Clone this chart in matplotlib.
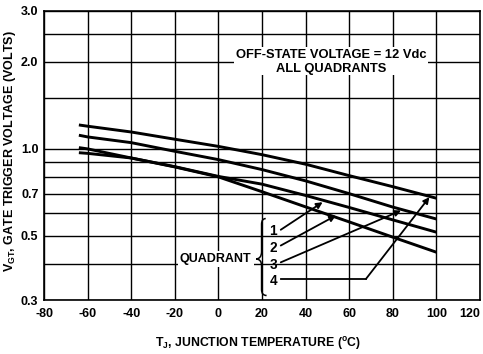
import matplotlib
matplotlib.use("Agg")
import matplotlib.pyplot as plt
from matplotlib.path import Path
from matplotlib.patches import PathPatch, Rectangle
from matplotlib.ticker import NullFormatter

# ---------------- data ----------------
temps = [-64, -60, -40, -20, 0, 20, 40, 60, 80, 100]
vgt_q4 = [1.21, 1.198, 1.144, 1.08, 1.02, 0.955, 0.885, 0.808, 0.74, 0.675]
vgt_q3 = [1.115, 1.10, 1.051, 0.981, 0.918, 0.848, 0.775, 0.70, 0.629, 0.572]
vgt_q1 = [0.97, 0.965, 0.93, 0.868, 0.803, 0.755, 0.69, 0.627, 0.568, 0.515]
vgt_q2 = [1.01, 1.0, 0.93, 0.866, 0.80, 0.711, 0.63, 0.559, 0.495, 0.439]

x_ticks = [-80, -60, -40, -20, 0, 20, 40, 60, 80, 100, 120]
y_major = [0.3, 0.5, 0.7, 1.0, 2.0, 3.0]
y_major_labels = ["0.3", "0.5", "0.7", "1.0", "2.0", "3.0"]
y_minor = [0.4, 0.6, 0.8, 0.9, 1.5, 2.5]

quadrant_labels = ["1", "2", "3", "4"]

plt.rcParams["font.family"] = ["Liberation Sans", "DejaVu Sans"]
plt.rcParams["axes.unicode_minus"] = False
FS = 9.0
NARROW = ["Liberation Sans Narrow", "Liberation Sans", "DejaVu Sans"]

fig = plt.figure(figsize=(4.83, 3.54), dpi=100)
ax = fig.add_axes([0.0911, 0.1525, 0.9027, 0.8165])
ax.set_yscale("log")
ax.set_xlim(-80, 120)
ax.set_ylim(0.3, 3.0)

ax.set_xticks(x_ticks)
xl = ax.set_xticklabels([str(v) for v in x_ticks], fontsize=FS, fontweight="bold")
xl[-1].set_horizontalalignment("right")
ax.set_yticks(y_major)
ax.set_yticklabels(y_major_labels, fontsize=FS, fontweight="bold")
ax.set_yticks(y_minor, minor=True)
ax.yaxis.set_minor_formatter(NullFormatter())
ax.tick_params(axis="both", which="both", length=0)
ax.tick_params(axis="x", pad=6)
ax.tick_params(axis="y", pad=4)
ax.grid(True, which="both", color="black", linewidth=1.0)
ax.set_axisbelow(True)
for s in ax.spines.values():
    s.set_linewidth(1.2)
    s.set_color("black")

for series in [vgt_q4, vgt_q3, vgt_q1, vgt_q2]:
    ax.plot(temps, series, color="black", linewidth=2.1, solid_capstyle="butt", zorder=3)

ax.set_xlabel("T$_\\mathregular{J}$, JUNCTION TEMPERATURE ($^\\mathregular{o}$C)",
              fontsize=8.8, fontweight="bold")
ax.xaxis.set_label_coords(0.49, -0.12)
ax.set_ylabel("V$_\\mathregular{GT}$, GATE TRIGGER VOLTAGE (VOLTS)",
              fontsize=9.0, fontweight="bold", family=NARROW)
ax.yaxis.set_label_coords(-0.06, 0.516)

# header note with white gap in the grid
ax.add_patch(Rectangle((7.0, 1.80), 89.2, 0.45, facecolor="white", edgecolor="none", zorder=2.5))
ax.text(51.6, 2.0, "OFF-STATE VOLTAGE = 12 Vdc\nALL QUADRANTS", ha="center", va="center",
        fontsize=9.3, fontweight="bold", linespacing=1.2, zorder=4)

# QUADRANT label
ax.text(-1.3, 0.417, "QUADRANT", ha="center", va="center", fontsize=FS, fontweight="bold",
        zorder=4, bbox=dict(facecolor="white", edgecolor="none", pad=1.5))

# brace
verts = [(21.7, 0.574), (19.8, 0.574), (19.8, 0.548), (19.8, 0.441),
         (19.8, 0.417), (17.3, 0.416), (19.8, 0.415), (19.8, 0.395),
         (19.8, 0.326), (19.8, 0.311), (22.1, 0.311)]
codes = [Path.MOVETO, Path.CURVE3, Path.CURVE3, Path.LINETO,
         Path.CURVE3, Path.CURVE3, Path.CURVE3, Path.CURVE3,
         Path.LINETO, Path.CURVE3, Path.CURVE3]
ax.add_patch(PathPatch(Path(verts, codes), facecolor="none", edgecolor="black", lw=1.1, zorder=5))

num_y = [0.518, 0.454, 0.397, 0.350]
for lab, yy in zip(quadrant_labels, num_y):
    ax.text(25.2, yy, lab, ha="center", va="center", fontsize=FS + 0.8, fontweight="bold", zorder=5)

arrow_kw = dict(arrowstyle="-|>", color="black", lw=1.3, mutation_scale=9, shrinkA=0, shrinkB=0)
ax.annotate("", xy=(47.8, 0.654), xytext=(28.6, 0.525), arrowprops=arrow_kw, zorder=5)
ax.annotate("", xy=(53.9, 0.588), xytext=(28.6, 0.463), arrowprops=arrow_kw, zorder=5)
ax.annotate("", xy=(83.8, 0.612), xytext=(28.6, 0.405), arrowprops=arrow_kw, zorder=5)
ax.plot([28.6, 67.7], [0.355, 0.355], color="black", lw=1.3, zorder=5)
ax.annotate("", xy=(96.8, 0.681), xytext=(67.7, 0.355), arrowprops=arrow_kw, zorder=5)

fig.savefig("out.png", dpi=100)
